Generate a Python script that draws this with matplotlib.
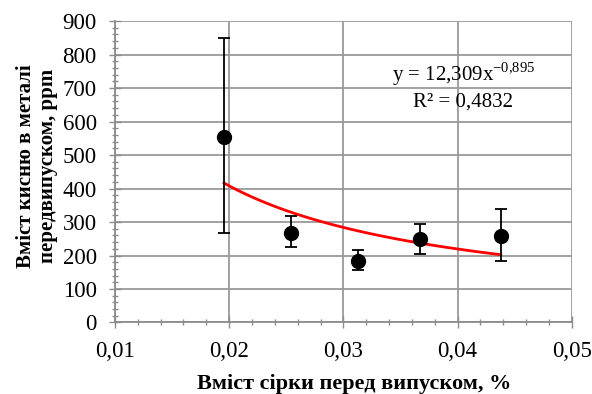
import numpy as np
import matplotlib
matplotlib.use("Agg")
from matplotlib import pyplot as plt
from matplotlib.ticker import MultipleLocator, FuncFormatter

plt.rcParams['font.family'] = ['Liberation Serif', 'DejaVu Serif']
plt.rcParams['mathtext.fontset'] = 'custom'
plt.rcParams['mathtext.rm'] = 'Liberation Serif'

# Data
sulfur = [0.01956, 0.0254, 0.03124, 0.0367, 0.04378]
oxygen = [555, 268, 185, 250, 258]
err_up = [850, 318, 216, 294, 339]
err_lo = [266, 224, 156, 205, 183]

# Power trend from the chart: y = 12.309 x^-0.895
coef_a = 12.309
coef_b = -0.895

fig = plt.figure(figsize=(5.92, 3.94), dpi=100)
ax = fig.add_axes([0.194, 0.1815, 0.772, 0.765])

ax.set_xlim(0.01, 0.05)
ax.set_ylim(0, 900)
ax.xaxis.set_major_locator(MultipleLocator(0.01))
ax.xaxis.set_minor_locator(MultipleLocator(0.002))
ax.yaxis.set_major_locator(MultipleLocator(100))
ax.yaxis.set_minor_locator(MultipleLocator(20))
ax.xaxis.set_major_formatter(FuncFormatter(lambda v, p: ('%.2f' % v).replace('.', ',')))

ax.grid(True, which='major', color='#9a9a9a', linewidth=1.3)
ax.set_axisbelow(True)
for s in ['top', 'right']:
    ax.spines[s].set_visible(False)
for s in ['left', 'bottom']:
    ax.spines[s].set_color('#8c8c8c')
    ax.spines[s].set_linewidth(1.3)

ax.tick_params(which='major', direction='inout', length=8, width=1, color='#8c8c8c',
               labelsize=16.5)
ax.tick_params(which='minor', direction='inout', length=5, width=1, color='#8c8c8c')
ax.tick_params(axis='x', which='major', pad=9)
ax.tick_params(axis='y', which='major', pad=9)

# Trend line over the data range
xs = np.linspace(min(sulfur), max(sulfur), 100)
ax.plot(xs, coef_a * xs ** coef_b, color='#ff0000', linewidth=2, zorder=3)

yerr = [np.array(oxygen) - np.array(err_lo), np.array(err_up) - np.array(oxygen)]
ax.errorbar(sulfur, oxygen, yerr=yerr, fmt='o', color='black', markersize=10,
            ecolor='black', elinewidth=1.3, capsize=4, capthick=1.3, zorder=4)

ax.text(0.0405, 740, 'y = 12,309x$^{-0{,}895}$', fontsize=15, ha='center', va='center')
ax.text(0.0405, 658, 'R² = 0,4832', fontsize=15, ha='center', va='center')

ax.set_xlabel('Вміст сірки перед випуском, %', fontsize=16, fontweight='bold')
ax.xaxis.set_label_coords(0.524, -0.172)
ax.set_ylabel('Вміст кисню в металі\nпередвипуском, ppm', fontsize=15, fontweight='bold',
              linespacing=1.15)
ax.yaxis.set_label_coords(-0.124, 0.52)

fig.savefig('out.png', dpi=100)
